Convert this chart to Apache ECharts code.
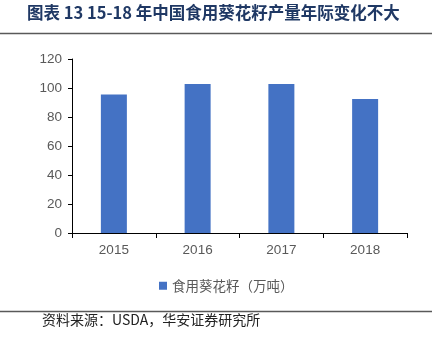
<!DOCTYPE html>
<html><head><meta charset="utf-8">
<script src="https://cdn.jsdelivr.net/npm/echarts@6/dist/echarts.min.js"></script>
<style>html,body{margin:0;padding:0;background:#fff}#c{width:445px;height:342px}</style>
</head><body><div id="c"></div>
<script>
const categories = ['2015', '2016', '2017', '2018'];
const values = [95.5, 102.8, 102.8, 92.4];
const yTicks = [0, 20, 40, 60, 80, 100, 120];
const seriesName = '食用葵花籽（万吨）';
const titleText = '图表 13 15-18 年中国食用葵花籽产量年际变化不大';
const sourceText = '资料来源：USDA，华安证券研究所';

const chart = echarts.init(document.getElementById('c'), null, {renderer: 'canvas'});
chart.setOption({
  animation: false,
  backgroundColor: '#fff',
  grid: {left: 72, right: 38, top: 59, bottom: 109},
  legend: {
    data: [seriesName],
    top: 274, left: 154,
    icon: 'rect', itemWidth: 8, itemHeight: 8, itemGap: 4,
    textStyle: {color: '#595959', fontSize: 13.5, fontFamily: 'Noto Sans CJK SC'}
  },
  xAxis: {
    type: 'category', data: categories,
    axisLine: {lineStyle: {color: '#000', width: 1}},
    axisTick: {show: true, alignWithLabel: false, length: 5, lineStyle: {color: '#000'}},
    axisLabel: {color: '#595959', fontSize: 13.5, margin: 10, fontFamily: 'Liberation Sans'}
  },
  yAxis: {
    type: 'value', min: yTicks[0], max: yTicks[yTicks.length - 1], interval: 20,
    axisLine: {show: true, lineStyle: {color: '#000', width: 1}},
    axisTick: {show: true, length: 4, lineStyle: {color: '#000'}},
    splitLine: {show: false},
    axisLabel: {color: '#595959', fontSize: 13.5, margin: 10, fontFamily: 'Liberation Sans'}
  },
  series: [{
    name: seriesName, type: 'bar', data: values,
    barWidth: 26,
    itemStyle: {color: '#4472C4'}
  }],
  graphic: [
    {type: 'text', left: 27, top: 4, style: {text: titleText, fill: '#1F3864', font: 'bold 16.5px "Noto Sans CJK SC"'}},
    {type: 'line', shape: {x1: 0, y1: 33.5, x2: 432, y2: 33.5}, style: {stroke: '#595959', lineWidth: 1.5}},
    {type: 'line', shape: {x1: 0, y1: 311.5, x2: 432, y2: 311.5}, style: {stroke: '#595959', lineWidth: 1.5}},
    {type: 'text', left: 42, top: 313, style: {text: sourceText, fill: '#222', font: '14px "Noto Sans CJK SC"'}}
  ]
});
</script></body></html>
